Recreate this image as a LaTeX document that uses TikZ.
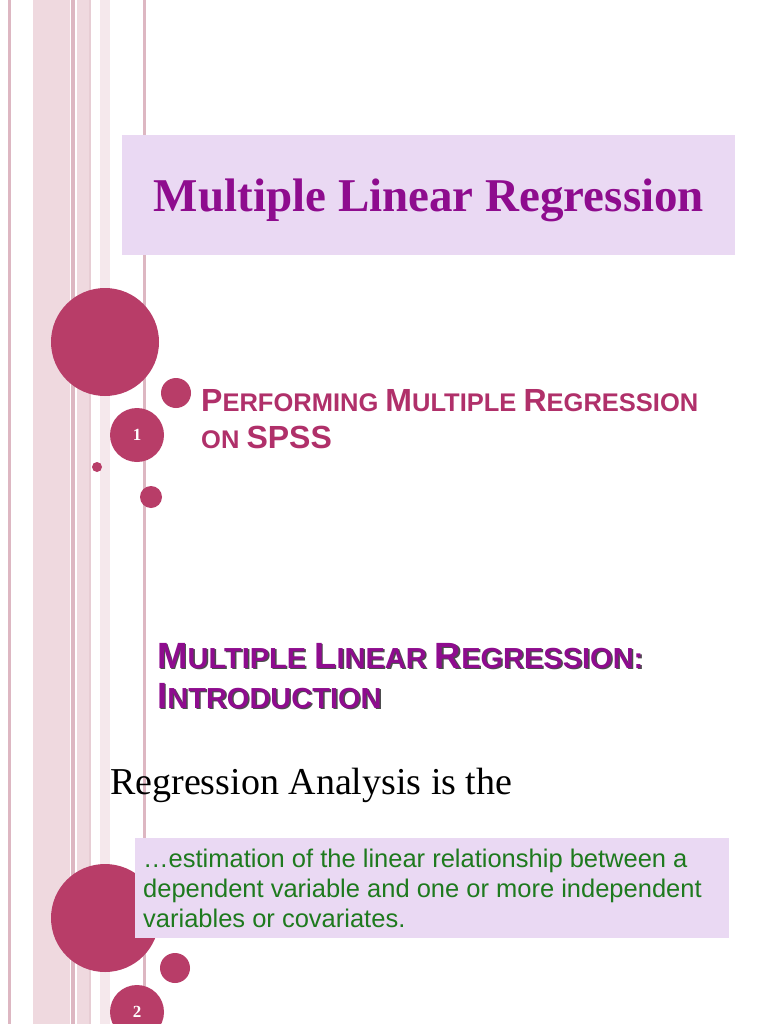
\documentclass[tikz,border=0pt]{standalone}
\usepackage{fontspec}
\setmainfont{Liberation Serif}
\setsansfont{Liberation Sans}
\definecolor{dot}{HTML}{B83D68}
\definecolor{lav}{HTML}{EAD9F3}
\definecolor{ttl}{HTML}{8E0C8E}
\definecolor{sub}{HTML}{B0306A}
\definecolor{grn}{HTML}{1E7A1E}
\definecolor{band}{HTML}{EFD9DF}
\definecolor{bandd}{HTML}{DDB7C2}
\newcommand{\sca}[2]{{\fontsize{#1}{#1}\selectfont #2}}
\begin{document}
\begin{tikzpicture}[x=1pt,y=-1pt,
  circ/.style={circle,fill=dot,inner sep=0pt,text=white,font=\bfseries\fontsize{17}{17}\selectfont},
  txt/.style={anchor=base west,inner sep=0pt}]
\useasboundingbox (0,0) rectangle (768,1024);
\fill[white] (0,0) rectangle (768,1024);
% stripes
\fill[bandd] (8,0) rectangle (11,1024);
\fill[band] (33,0) rectangle (70,1024);
\fill[bandd] (71,0) rectangle (75,1024);
\fill[band] (77,0) rectangle (89,1024);
\fill[bandd!70] (89,0) rectangle (91,1024);
\fill[band!60] (100,0) rectangle (110,1024);
\fill[bandd] (143,0) rectangle (146,1024);
% slide 1
\node[fill=lav,minimum width=613,minimum height=120,anchor=north west,inner sep=0pt] (tbox) at (122,135) {};
\node[text=ttl,font=\fontsize{47}{47}\selectfont\bfseries] (title) at (429,200) {Multiple Linear Regression};
\node[circ,minimum size=108] (c1) at (105,342) {};
\node[circ,minimum size=30] (c2) at (176,393) {};
\node[circ,minimum size=54] (c3) at (137,435) {1};
\node[circ,minimum size=10] (c4) at (97,467) {};
\node[circ,minimum size=22] (c5) at (151,497) {};
\node[txt,text=sub,font=\sffamily\bfseries\fontsize{25.5}{25.5}\selectfont] (s1) at (201,411) {\sca{32}{P}ERFORMING \sca{32}{M}ULTIPLE \sca{32}{R}EGRESSION};
\node[txt,text=sub,font=\sffamily\bfseries\fontsize{25.5}{25.5}\selectfont] (s2) at (201,448) {ON \sca{32}{SPSS}};
% slide 2
\begin{scope}[font=\sffamily\bfseries\fontsize{29}{29}\selectfont]
\node[txt,text=black!70] at (158.5,669.5) {\sca{36.5}{M}ULTIPLE \sca{36.5}{L}INEAR \sca{36.5}{R}EGRESSION:};
\node[txt,text=ttl] (h1) at (157,668) {\sca{36.5}{M}ULTIPLE \sca{36.5}{L}INEAR \sca{36.5}{R}EGRESSION:};
\node[txt,text=black!70] at (158.5,709.5) {\sca{36.5}{I}NTRODUCTION};
\node[txt,text=ttl] (h2) at (157,708) {\sca{36.5}{I}NTRODUCTION};
\end{scope}
\node[txt,font=\fontsize{38}{38}\selectfont] (ra) at (110,794) {Regression Analysis is the};
\node[circ,minimum size=108] (d1) at (105,918) {};
\node[circ,minimum size=30] (d2) at (175,968) {};
\node[circ,minimum size=54] (d3) at (137,1012) {2};
\node[fill=lav,minimum width=594,minimum height=100,anchor=north west,inner sep=0pt] (dbox) at (135,838) {};
\begin{scope}[font=\sffamily\fontsize{25.5}{25.5}\selectfont,text=grn]
\node[txt] (l1) at (143,867) {\ldots estimation of the linear relationship between a};
\node[txt] (l2) at (143,897) {dependent variable and one or more independent};
\node[txt] (l3) at (143,927) {variables or covariates.};
\end{scope}
\end{tikzpicture}
\end{document}
